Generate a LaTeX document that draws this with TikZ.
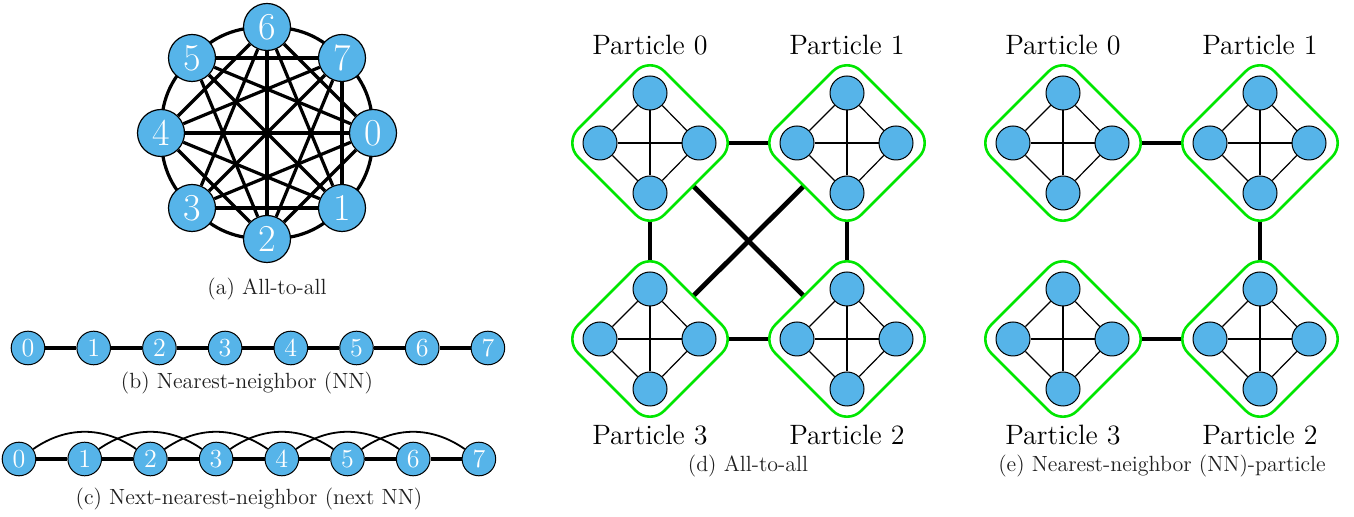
\documentclass[tikz,border=0pt]{standalone}
\usepackage{fontspec}
\usetikzlibrary{calc,backgrounds}
\definecolor{qblue}{RGB}{86,180,233}
\definecolor{pgreen}{RGB}{0,230,0}
\definecolor{captc}{RGB}{30,30,30}
\tikzset{
  qa/.style={circle,draw=black,line width=0.6pt,fill=qblue,minimum size=23.5pt,inner sep=0pt,text=white,font=\fontsize{19}{19}\selectfont},
  qb/.style={circle,draw=black,line width=0.5pt,fill=qblue,minimum size=16.8pt,inner sep=0pt,text=white,font=\fontsize{13}{13}\selectfont},
  qp/.style={circle,draw=black,line width=0.5pt,fill=qblue,minimum size=17pt,inner sep=0pt},
  pdiam/.style={shape=rectangle,draw=pgreen,fill=white,line width=1.3pt,rounded corners=10pt,minimum size=60.8pt,rotate=45,inner sep=0pt},
  chord/.style={line width=1.6pt},
  nnline/.style={line width=2pt},
  nnarc/.style={line width=0.9pt},
  inner/.style={line width=0.6pt},
  pconn/.style={line width=2.4pt},
  plabel/.style={font=\fontsize{14}{16}\selectfont},
  capt/.style={text=captc,font=\fontsize{11}{13}\selectfont},
}
\newcommand\myparticle[2]{%
  \node[pdiam] (#1) at (#2) {};
  \node[qp] (#1t) at ($(#2)+(0,-50)$) {};
  \node[qp] (#1b) at ($(#2)+(0,50)$) {};
  \node[qp] (#1l) at ($(#2)+(-50,0)$) {};
  \node[qp] (#1r) at ($(#2)+(49,0)$) {};
  \draw[inner] (#1t) -- (#1l);
  \draw[inner] (#1t) -- (#1r);
  \draw[inner] (#1b) -- (#1l);
  \draw[inner] (#1b) -- (#1r);
  \draw[inner] (#1t) -- (#1b);
  \draw[inner] (#1l) -- (#1r);
}
\begin{document}
\begin{tikzpicture}[x=0.5pt,y=-0.5pt]
\useasboundingbox (0,0) rectangle (1354,517);
% ---------------- (a) all-to-all
\node[qa] (a0) at (373,133) {0};
\node[qa] (a7) at (342,58) {7};
\node[qa] (a6) at (267,27) {6};
\node[qa] (a5) at (192,58) {5};
\node[qa] (a4) at (161,133) {4};
\node[qa] (a3) at (192,208) {3};
\node[qa] (a2) at (267,239) {2};
\node[qa] (a1) at (342,208) {1};
\begin{pgfonlayer}{background}
\foreach \p/\q in {a0/a7,a7/a6,a6/a5,a5/a4,a4/a3,a3/a2,a2/a1,a1/a0}
  \draw[chord] (\p.center) to[bend right=22.5] (\q.center);
\end{pgfonlayer}
\foreach \p/\q in {a0/a2,a0/a3,a0/a4,a0/a5,a0/a6,a1/a3,a1/a4,a1/a5,a1/a6,a1/a7,a2/a4,a2/a5,a2/a6,a2/a7,a3/a6,a3/a7,a4/a6,a4/a7,a5/a7}
  \draw[chord] (\p) -- (\q);
\node[capt] (capa) at (267,289) {(a) All-to-all};
% ---------------- (b) NN
\foreach \i in {0,...,7}
  \node[qb] (b\i) at (28+65.7*\i,348) {\i};
\foreach \i [evaluate=\i as \j using int(\i+1)] in {0,...,6}
  \draw[nnline] (b\i) -- (b\j);
\node[capt] (capb) at (247,383) {(b) Nearest-neighbor (NN)};
% ---------------- (c) next NN
\foreach \i in {0,...,7}
  \node[qb] (c\i) at (19+65.7*\i,459) {\i};
\foreach \i [evaluate=\i as \j using int(\i+1)] in {0,...,6}
  \draw[nnline] (c\i) -- (c\j);
\foreach \i [evaluate=\i as \j using int(\i+2)] in {0,...,5}
  \draw[nnarc] (c\i) to[bend left=35] (c\j);
\node[capt] (capc) at (249,499) {(c) Next-nearest-neighbor (next NN)};
% ---------------- (d) all-to-all particles
\coordinate (D0) at (650,143);
\coordinate (D1) at (847,143);
\coordinate (D3) at (650,339);
\coordinate (D2) at (847,339);
\foreach \p/\q in {D0/D1,D0/D3,D1/D2,D3/D2,D0/D2,D1/D3}
  \draw[pconn] (\p) -- (\q);
\myparticle{d0}{D0}
\myparticle{d1}{D1}
\myparticle{d3}{D3}
\myparticle{d2}{D2}
\node[plabel] (ld0) at (650,45) {Particle 0};
\node[plabel] (ld1) at (847,45) {Particle 1};
\node[plabel] (ld3) at (650,435) {Particle 3};
\node[plabel] (ld2) at (847,435) {Particle 2};
\node[capt] (capd) at (748,466) {(d) All-to-all};
% ---------------- (e) NN particles
\coordinate (E0) at (1063,143);
\coordinate (E1) at (1260,143);
\coordinate (E3) at (1063,339);
\coordinate (E2) at (1260,339);
\foreach \p/\q in {E0/E1,E1/E2,E3/E2}
  \draw[pconn] (\p) -- (\q);
\myparticle{e0}{E0}
\myparticle{e1}{E1}
\myparticle{e3}{E3}
\myparticle{e2}{E2}
\node[plabel] (le0) at (1063,45) {Particle 0};
\node[plabel] (le1) at (1260,45) {Particle 1};
\node[plabel] (le3) at (1063,435) {Particle 3};
\node[plabel] (le2) at (1260,435) {Particle 2};
\node[capt] (cape) at (1162,466) {(e) Nearest-neighbor (NN)-particle};
\end{tikzpicture}
\end{document}
